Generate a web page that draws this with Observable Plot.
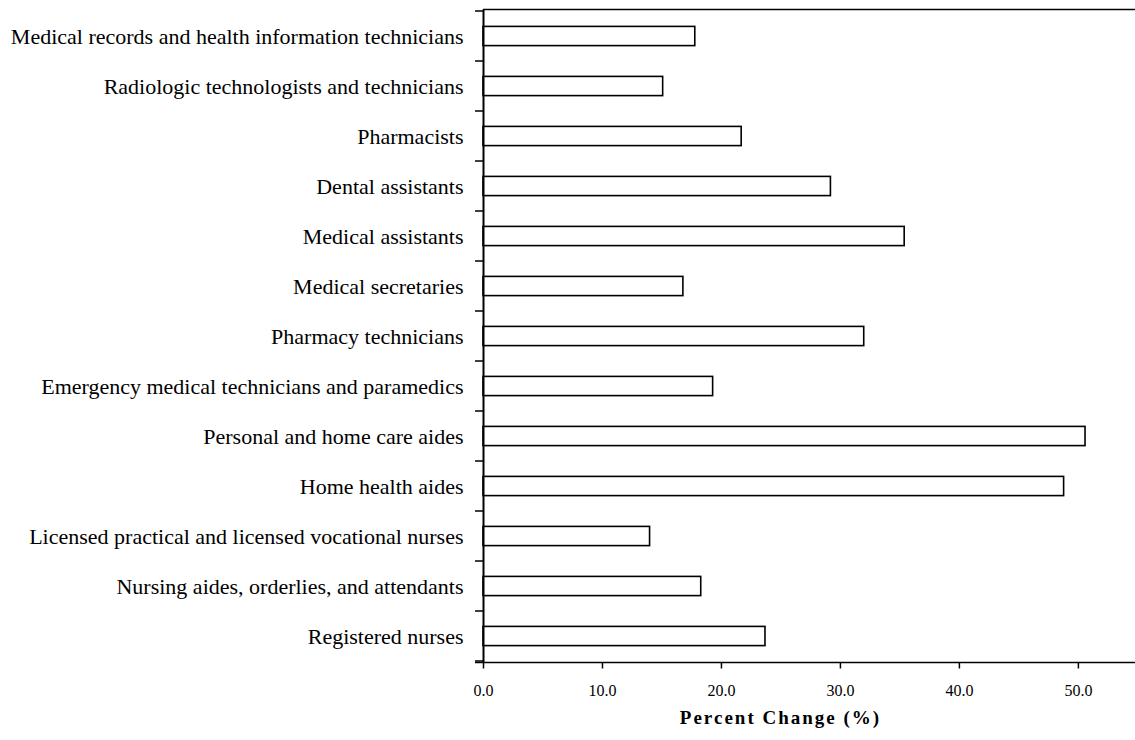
<!DOCTYPE html>
<html>
<head>
<meta charset="utf-8">
<script src="https://cdn.jsdelivr.net/npm/d3@7"></script>
<script src="https://cdn.jsdelivr.net/npm/@observablehq/plot@0.6"></script>
<style>
  html, body { margin: 0; padding: 0; background: #fff; }
  #chart svg { display: block; }
</style>
</head>
<body>
<div id="chart"></div>
<script>
const categories = [
  "Medical records and health information technicians",
  "Radiologic technologists and technicians",
  "Pharmacists",
  "Dental assistants",
  "Medical assistants",
  "Medical secretaries",
  "Pharmacy technicians",
  "Emergency medical technicians and paramedics",
  "Personal and home care aides",
  "Home health aides",
  "Licensed practical and licensed vocational nurses",
  "Nursing aides, orderlies, and attendants",
  "Registered nurses"
];
const values = [17.8, 15.1, 21.7, 29.2, 35.4, 16.8, 32.0, 19.3, 50.6, 48.8, 14.0, 18.3, 23.7];
const xTicks = [0, 10, 20, 30, 40, 50];
const xTitle = "Percent Change (%)";

const data = categories.map((c, i) => ({category: c, value: values[i]}));
const serif = "'Liberation Serif', 'Times New Roman', Times, serif";

function frameLines(index, scales, vals, dims) {
  const {width, height, marginLeft, marginTop, marginBottom, marginRight} = dims;
  const y = scales.y;
  const n = categories.length;
  const bw = (y && y.bandwidth) ? y.bandwidth() : (height - marginTop - marginBottom) / n;
  const ys = categories.map((c, i) => (y ? y(c) : marginTop + i * bw));
  ys.push(ys[n - 1] + bw);
  const g = d3.create("svg:g").attr("stroke", "black").attr("fill", "none");
  g.selectAll("line.tk").data(ys).join("line")
    .attr("class", "tk")
    .attr("stroke-width", 1.5)
    .attr("x1", marginLeft - 8).attr("x2", marginLeft)
    .attr("y1", d => d).attr("y2", d => d);
  g.append("line").attr("stroke-width", 1.5)
    .attr("x1", marginLeft).attr("x2", width - marginRight)
    .attr("y1", marginTop).attr("y2", marginTop);
  g.append("line").attr("stroke-width", 1.5)
    .attr("x1", marginLeft - 8).attr("x2", width - marginRight)
    .attr("y1", height - marginBottom).attr("y2", height - marginBottom);
  return g.node();
}

const plot = Plot.plot({
  width: 1135,
  height: 740,
  marginLeft: 483,
  marginRight: 0,
  marginTop: 9.5,
  marginBottom: 77.5,
  style: {fontFamily: serif, background: "#fff", color: "#000"},
  x: {domain: [0, 54.8], ticks: xTicks, label: null},
  y: {domain: categories, padding: 0, label: null},
  marks: [
    Plot.barX(data, {
      x: "value", y: "category",
      fill: "white", stroke: "black", strokeWidth: 1.6,
      insetTop: 15.4, insetBottom: 15.4
    }),
    Plot.ruleX([0], {stroke: "black", strokeWidth: 2}),
    frameLines,
    Plot.axisX({
      ticks: xTicks, tickSize: 6, tickPadding: 16,
      tickFormat: d3.format(".1f"), fontSize: 16, stroke: "black", strokeWidth: 1.5, label: null
    }),
    Plot.axisY({
      tickSize: 0, tickPadding: 20, fontSize: 22, label: null
    }),
    Plot.text([xTitle], {
      text: d => d, frameAnchor: "bottom", dx: -29, dy: 61,
      fontSize: 19, fontWeight: "bold", fill: "black"
    })
  ]
});

d3.select(plot).selectAll("text").filter(function() { return this.textContent === xTitle; })
  .style("letter-spacing", "2px");

document.getElementById("chart").appendChild(plot);
</script>
</body>
</html>
